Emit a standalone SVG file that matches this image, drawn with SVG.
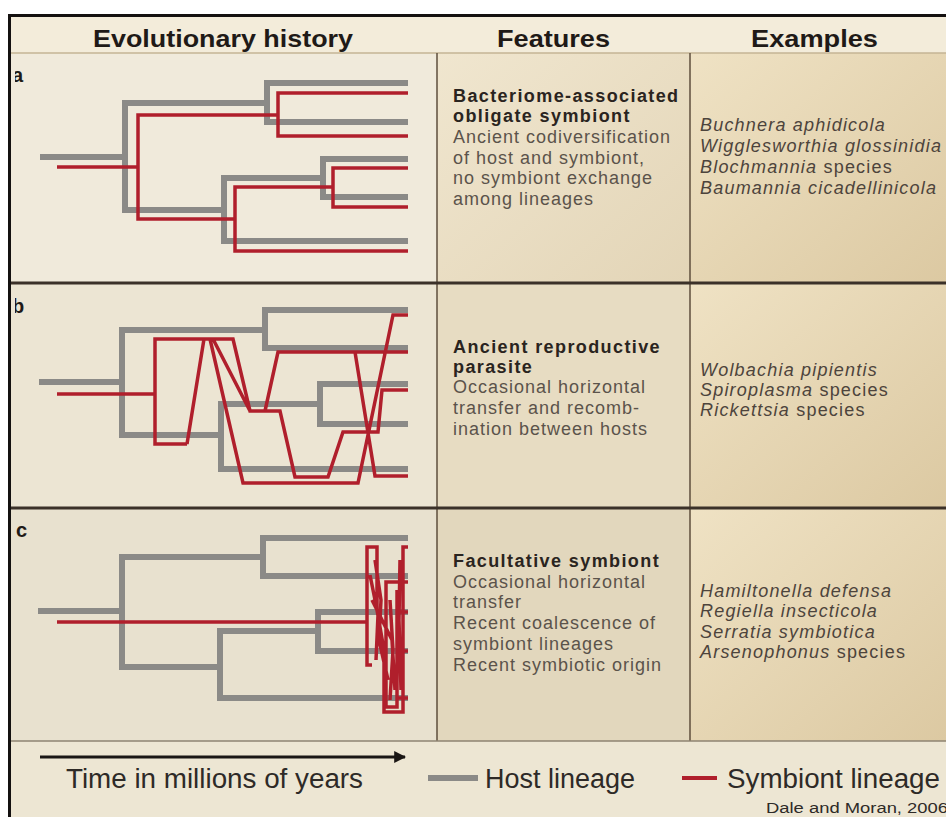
<svg xmlns="http://www.w3.org/2000/svg" width="946" height="817" viewBox="0 0 946 817">
<defs>
<style>
.hdr{font-family:"Liberation Sans",Arial,sans-serif;font-weight:bold;font-size:24px;fill:#1f1a17}
.ft{font-family:"Liberation Sans",Arial,sans-serif;font-size:18px;fill:#5b534b;letter-spacing:1px}
.fb{font-family:"Liberation Sans",Arial,sans-serif;font-size:18px;font-weight:bold;fill:#2a2420;letter-spacing:1.4px}
.ex{font-family:"Liberation Sans",Arial,sans-serif;font-size:18px;font-style:italic;fill:#4d443c;letter-spacing:1.2px}
.exn{font-style:normal}
.lg{font-family:"Liberation Sans",Arial,sans-serif;font-size:27px;fill:#2e2a27}
.lbl{font-family:"Liberation Sans",Arial,sans-serif;font-size:20px;font-weight:bold;fill:#1f1a17}
.host{fill:none;stroke:#8b8a87;stroke-width:6;stroke-linejoin:miter}
.sym{fill:none;stroke:#b01f2c;stroke-width:3.5;stroke-linejoin:miter}
</style>
<linearGradient id="g3" x1="0" y1="0" x2="1" y2="1">
<stop offset="0" stop-color="#efe2c4"/><stop offset="1" stop-color="#dcc9a2"/>
</linearGradient>
<linearGradient id="g2" x1="0" y1="0" x2="1" y2="1">
<stop offset="0" stop-color="#f0e6cf"/><stop offset="1" stop-color="#e3d5b7"/>
</linearGradient>
<marker id="arr" viewBox="0 0 10 10" refX="9" refY="5" markerWidth="4" markerHeight="4" orient="auto" markerUnits="strokeWidth">
<path d="M0,0 L10,5 L0,10 z" fill="#1a1614"/>
</marker>
<clipPath id="lc"><rect x="15" y="0" width="30" height="817"/></clipPath>
</defs>

<!-- backgrounds -->
<rect x="0" y="0" width="946" height="817" fill="#ffffff"/>
<rect x="10" y="16" width="936" height="801" fill="#eee7d5"/>
<rect x="10" y="16" width="936" height="37" fill="#f3ecda"/>
<rect x="10" y="53" width="427" height="230" fill="#f0eadb"/>
<rect x="437" y="53" width="253" height="230" fill="url(#g2)"/>
<rect x="690" y="53" width="256" height="230" fill="url(#g3)"/>
<rect x="10" y="283" width="427" height="225" fill="#ece5d3"/>
<rect x="437" y="283" width="253" height="225" fill="#e7dcc2"/>
<rect x="690" y="283" width="256" height="225" fill="url(#g3)"/>
<rect x="10" y="508" width="427" height="233" fill="#e8e1cf"/>
<rect x="437" y="508" width="253" height="233" fill="#e2d7bd"/>
<rect x="690" y="508" width="256" height="233" fill="url(#g3)"/>
<rect x="10" y="741" width="936" height="76" fill="#ede6d3"/>

<!-- grid lines -->
<g id="grid">
<line x1="10" y1="53" x2="946" y2="53" stroke="#c4b595" stroke-width="1.5"/>
<line x1="437" y1="53" x2="437" y2="741" stroke="#5e4e3c" stroke-width="1.5"/>
<line x1="690" y1="53" x2="690" y2="741" stroke="#5e4e3c" stroke-width="1.5"/>
<line x1="10" y1="283" x2="946" y2="283" stroke="#3b3129" stroke-width="3"/>
<line x1="10" y1="508" x2="946" y2="508" stroke="#3b3129" stroke-width="3"/>
<line x1="10" y1="741" x2="946" y2="741" stroke="#8e8372" stroke-width="1.5"/>
</g>

<!-- header -->
<g id="header">
<text class="hdr" x="93" y="47" textLength="260" lengthAdjust="spacingAndGlyphs">Evolutionary history</text>
<text class="hdr" x="497" y="47" textLength="113" lengthAdjust="spacingAndGlyphs">Features</text>
<text class="hdr" x="751" y="47" textLength="127" lengthAdjust="spacingAndGlyphs">Examples</text>
</g>

<!-- panel labels -->
<g id="labels" clip-path="url(#lc)">
<text class="lbl" x="12" y="82">a</text>
<text class="lbl" x="12" y="313">b</text>
<text class="lbl" x="16" y="537">c</text>
</g>

<!-- panel a tree -->
<g id="tree-a">
<path class="host" d="M40,157 H125 M267,103 H125 V210 H224 M408,83 H267 V122 H408 M323,178 H224 V241 H408 M408,159 H323 V197 H408"/>
<path class="sym" d="M57,167 H138 M278,115 H138 V219 H235 M408,93 H278 V136 H408 M333,187 H235 V251 H408 M408,168 H333 V207 H408"/>
</g>

<!-- panel b tree -->
<g id="tree-b">
<path class="host" d="M39,382 H122 M265,330 H122 V435 H221 M408,310 H265 V348 H408 M320,404 H221 V469 H408 M408,384 H320 V424 H408"/>
<path class="sym" d="M57,394 H155 M187,444 H155 V339 H233 L250,411 H280 L295,477 H328 L343,432 H378 L382,390 H408 M187,444 L204,339 M210,339 L243,483 H358 L393,315 H408 M213,339 L250,411 M265,411 L278,352 H408 M355,352 L375,476 H408"/>
</g>

<!-- panel c tree -->
<g id="tree-c">
<path class="host" d="M38,611 H122 M263,557 H122 V667 H220 M408,538 H263 V576 H408 M318,631 H220 V698 H408 M408,612 H318 V651 H408"/>
<path class="sym" d="M57,622 H368 M372,665 H367 V547 H377 V610 L384,650 V712 H403 V547 H408 M408,582 H386 V707 H397 V590 M375,560 L381,600 L379,640 L388,680 M372,600 L392,640 L395,690 M370,575 L378,615 L376,660 M390,600 L393,650 L390,700 M400,560 L399,620 L401,690 M397,612 H408 M397,651 H408 M397,698 H408"/>
</g>

<!-- features -->
<g id="features-a">
<text class="fb" x="453" y="102">Bacteriome-associated</text>
<text class="fb" x="453" y="122">obligate symbiont</text>
<text class="ft" x="453" y="143">Ancient codiversification</text>
<text class="ft" x="453" y="164">of host and symbiont,</text>
<text class="ft" x="453" y="184">no symbiont exchange</text>
<text class="ft" x="453" y="205">among lineages</text>
</g>
<g id="features-b">
<text class="fb" x="453" y="353">Ancient reproductive</text>
<text class="fb" x="453" y="373">parasite</text>
<text class="ft" x="453" y="393">Occasional horizontal</text>
<text class="ft" x="453" y="414">transfer and recomb-</text>
<text class="ft" x="453" y="435">ination between hosts</text>
</g>
<g id="features-c">
<text class="fb" x="453" y="567">Facultative symbiont</text>
<text class="ft" x="453" y="588">Occasional horizontal</text>
<text class="ft" x="453" y="608">transfer</text>
<text class="ft" x="453" y="629">Recent coalescence of</text>
<text class="ft" x="453" y="650">symbiont lineages</text>
<text class="ft" x="453" y="671">Recent symbiotic origin</text>
</g>

<!-- examples -->
<g id="examples-a">
<text class="ex" x="700" y="131">Buchnera aphidicola</text>
<text class="ex" x="700" y="152">Wigglesworthia glossinidia</text>
<text class="ex" x="700" y="173">Blochmannia <tspan class="exn">species</tspan></text>
<text class="ex" x="700" y="194">Baumannia cicadellinicola</text>
</g>
<g id="examples-b">
<text class="ex" x="700" y="376">Wolbachia pipientis</text>
<text class="ex" x="700" y="396">Spiroplasma <tspan class="exn">species</tspan></text>
<text class="ex" x="700" y="416">Rickettsia <tspan class="exn">species</tspan></text>
</g>
<g id="examples-c">
<text class="ex" x="700" y="597">Hamiltonella defensa</text>
<text class="ex" x="700" y="617">Regiella insecticola</text>
<text class="ex" x="700" y="638">Serratia symbiotica</text>
<text class="ex" x="700" y="658">Arsenophonus <tspan class="exn">species</tspan></text>
</g>

<!-- legend -->
<g id="legend">
<line x1="40" y1="757" x2="405" y2="757" stroke="#1a1614" stroke-width="3" marker-end="url(#arr)"/>
<text class="lg" x="66" y="788" textLength="297" lengthAdjust="spacingAndGlyphs">Time in millions of years</text>
<line x1="428" y1="778" x2="478" y2="778" stroke="#8b8a87" stroke-width="6"/>
<text class="lg" x="485" y="788" textLength="150" lengthAdjust="spacingAndGlyphs">Host lineage</text>
<line x1="682" y1="778" x2="717" y2="778" stroke="#b01f2c" stroke-width="4"/>
<text class="lg" x="727" y="788" textLength="213" lengthAdjust="spacingAndGlyphs">Symbiont lineage</text>
<text x="766" y="813" font-family="Liberation Sans, Arial, sans-serif" font-size="14" fill="#2e2a27" textLength="182" lengthAdjust="spacingAndGlyphs">Dale and Moran, 2006</text>
</g>

<!-- frame -->
<g id="frame">
<line x1="8" y1="15.5" x2="946" y2="15.5" stroke="#141110" stroke-width="3"/>
<line x1="9.5" y1="14" x2="9.5" y2="817" stroke="#141110" stroke-width="3"/>
</g>
</svg>
